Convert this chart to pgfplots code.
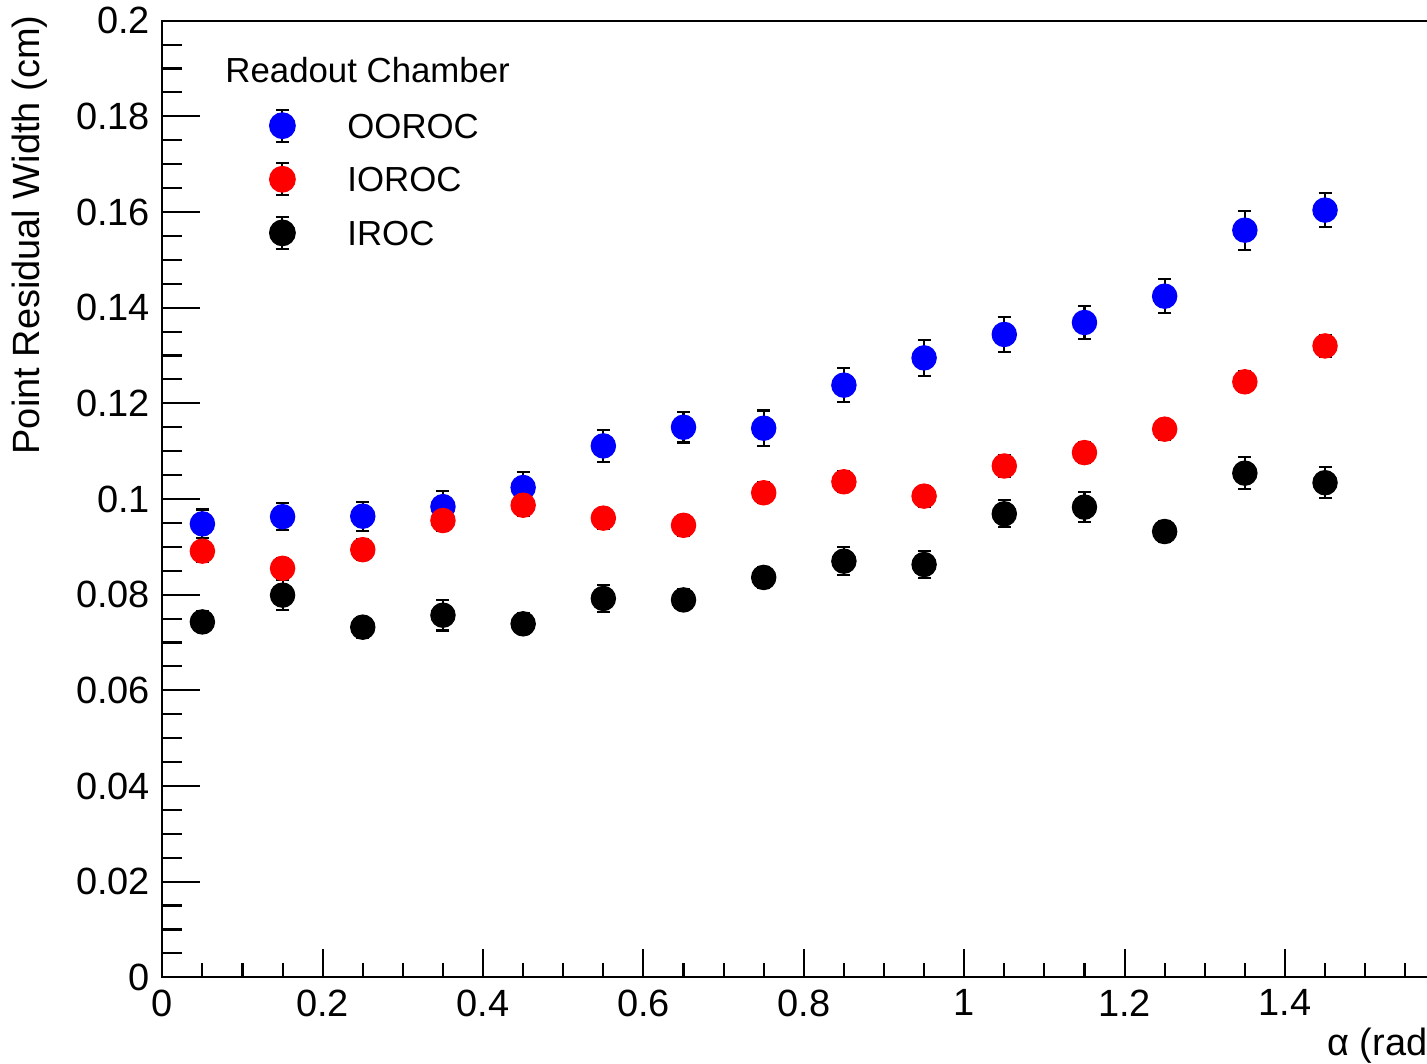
\documentclass[border=0pt]{standalone}
\usepackage{pgfplots}
\pgfplotsset{compat=1.18}
\usepackage{pgfplotstable}
\usepackage{fontspec}
\setmainfont{Liberation Sans}

% point residual width vs alpha, one table per readout chamber
\pgfplotstableread{
x    y      ey
0.05 0.0948 0.0030
0.15 0.0963 0.0028
0.25 0.0964 0.0030
0.35 0.0984 0.0032
0.45 0.1024 0.0032
0.55 0.1111 0.0034
0.65 0.1150 0.0032
0.75 0.1148 0.0037
0.85 0.1238 0.0036
0.95 0.1295 0.0037
1.05 0.1344 0.0036
1.15 0.1369 0.0035
1.25 0.1424 0.0036
1.35 0.1562 0.0041
1.45 0.1604 0.0036
}\ooroc
\pgfplotstableread{
x    y      ey
0.05 0.0891 0.0022
0.15 0.0855 0.0022
0.25 0.0894 0.0022
0.35 0.0955 0.0022
0.45 0.0987 0.0022
0.55 0.0960 0.0022
0.65 0.0945 0.0022
0.75 0.1013 0.0022
0.85 0.1036 0.0022
0.95 0.1006 0.0022
1.05 0.1069 0.0022
1.15 0.1097 0.0022
1.25 0.1146 0.0022
1.35 0.1245 0.0022
1.45 0.1320 0.0022
}\ioroc
\pgfplotstableread{
x    y      ey
0.05 0.0743 0.0022
0.15 0.0799 0.0031
0.25 0.0732 0.0022
0.35 0.0757 0.0032
0.45 0.0739 0.0022
0.55 0.0792 0.0028
0.65 0.0789 0.0022
0.75 0.0836 0.0022
0.85 0.0870 0.0029
0.95 0.0863 0.0028
1.05 0.0969 0.0028
1.15 0.0983 0.0031
1.25 0.0932 0.0022
1.35 0.1054 0.0033
1.45 0.1034 0.0032
}\iroc

\pgfplotsset{
  errs/.style={only marks, mark=none, forget plot,
    error bars/.cd, y dir=both, y explicit,
    error bar style={black, line width=0.6pt},
    error mark options={rotate=90, black, mark size=0.065cm, line width=0.6pt}},
  pts/.style={only marks, mark=*, mark size=0.122cm,
    mark options={draw=#1, fill=#1, line width=0.3pt},
    legend image code/.code={
      \draw[black, line width=0.6pt] (0cm,-0.16cm) -- (0cm,0.16cm)
        (-0.065cm,-0.16cm) -- (0.065cm,-0.16cm)
        (-0.065cm,0.16cm) -- (0.065cm,0.16cm);
      \fill[#1] (0cm,0cm) circle (0.127cm);
      \path[draw=none] (-0.127cm,0cm) -- (0.65cm,0cm);}},
}

\begin{document}
\begin{tikzpicture}
\path[use as bounding box, clip] (-1.623cm,-0.857cm) rectangle (12.647cm,9.773cm);
\begin{axis}[
  scale only axis,
  width=12.83cm, height=9.566cm,
  xmin=0, xmax=1.6, ymin=0, ymax=0.2,
  xtick={0,0.2,0.4,0.6,0.8,1,1.2,1.4,1.6},
  xticklabels={0,0.2,0.4,0.6,0.8,1,1.2,1.4,{}},
  ytick={0,0.02,0.04,0.06,0.08,0.1,0.12,0.14,0.16,0.18,0.2},
  minor x tick num=3, minor y tick num=3,
  xtick pos=lower, ytick pos=left,
  tick align=inside,
  major tick length=0.38cm, minor tick length=0.2cm,
  xtick style={/pgfplots/major tick length=0.28cm, /pgfplots/minor tick length=0.14cm},
  axis line style={line width=0.6pt},
  every tick/.style={black, line width=0.6pt},
  scaled ticks=false,
  /pgf/number format/assume math mode=true,
  y tick label style={/pgf/number format/fixed, /pgf/number format/precision=2},
  tick label style={font=\fontsize{10.8}{13}\selectfont},
  ylabel={Point Residual Width (cm)},
  ylabel style={font=\fontsize{10.8}{13}\selectfont, at={(axis description cs:-0.1031,1.006)}, anchor=east, inner sep=0pt},
  xlabel={α (rad)},
  xlabel style={font=\fontsize{10.8}{13}\selectfont, at={(axis description cs:0.9965,-0.0815)}, anchor=base east, inner sep=0pt},
  legend cell align=left,
  legend style={draw=none, fill=none, inner sep=0pt, row sep=0pt, column sep=0pt,
    at={(axis cs:0.1322,0.1838)}, anchor=north west,
    font=\fontsize{9.9}{12}\selectfont,
    nodes={inner sep=0pt, text height=0.393cm, text depth=0.143cm}},
]
\addplot[errs] table[x=x, y=y, y error=ey] {\ooroc};
\addplot[errs] table[x=x, y=y, y error=ey] {\ioroc};
\addplot[errs] table[x=x, y=y, y error=ey] {\iroc};
\addplot[pts=blue] table[x=x, y=y] {\ooroc};
\addlegendentry{OOROC}
\addplot[pts=red] table[x=x, y=y] {\ioroc};
\addlegendentry{IOROC}
\addplot[pts=black] table[x=x, y=y] {\iroc};
\addlegendentry{IROC}
\node[anchor=base west, inner sep=0pt, font=\fontsize{9.9}{12}\selectfont] at (axis cs:0.0779,0.1870) {Readout Chamber};
\end{axis}
\end{tikzpicture}
\end{document}
